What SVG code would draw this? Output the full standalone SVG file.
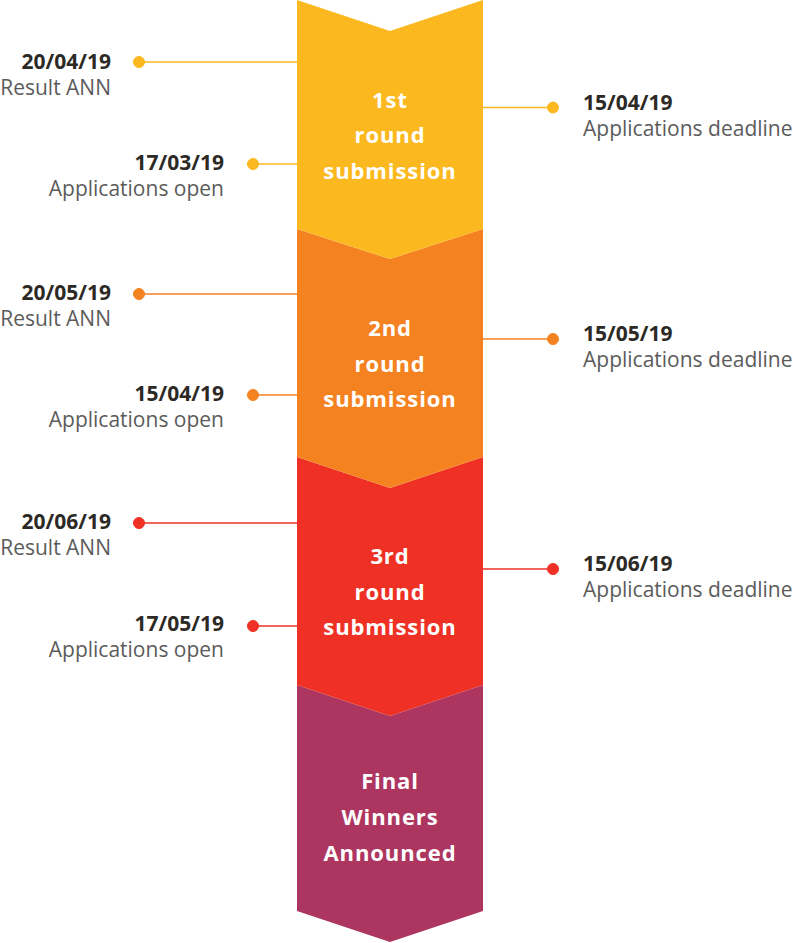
<svg xmlns="http://www.w3.org/2000/svg" width="793" height="943" viewBox="0 0 793 943">
<style>
.stage{font-family:"Open Sans","Liberation Sans",sans-serif;font-weight:700;font-size:22px;fill:#fff;text-anchor:middle;letter-spacing:0.9px}
.date{font-family:"Open Sans","Liberation Sans",sans-serif;font-weight:700;font-size:21px;fill:#2d2a26}
.lbl{font-family:"Open Sans","Liberation Sans",sans-serif;font-size:21px;fill:#5b5b5b}
.l{text-anchor:end}
.r{text-anchor:start}
.y{stroke:#FBB81F;fill:#FBB81F}
.o{stroke:#F58220;fill:#F58220}
.rd{stroke:#EE3124;fill:#EE3124}
line{stroke-width:1.5}
</style>
<rect width="793" height="943" fill="#fff"/>
<g id="final">
<polygon points="297,685 390,716 483,685 483,911 390,942 297,911" fill="#AD3661"/>
<text class="stage" x="390" y="789">Final</text>
<text class="stage" x="390" y="825">Winners</text>
<text class="stage" x="390" y="861">Announced</text>
</g>
<g id="round3">
<polygon points="297,457 390,488 483,457 483,685 390,716 297,685" fill="#EE3124"/>
<text class="stage" x="390" y="564">3rd</text>
<text class="stage" x="390" y="600">round</text>
<text class="stage" x="390" y="635">submission</text>
</g>
<g id="round2">
<polygon points="297,229 390,259 483,229 483,457 390,488 297,457" fill="#F58220"/>
<text class="stage" x="390" y="336">2nd</text>
<text class="stage" x="390" y="372">round</text>
<text class="stage" x="390" y="407">submission</text>
</g>
<g id="round1">
<polygon points="297,0 390,31 483,0 483,229 390,259 297,229" fill="#FBB81F"/>
<text class="stage" x="390" y="108">1st</text>
<text class="stage" x="390" y="143">round</text>
<text class="stage" x="390" y="179">submission</text>
</g>
<g id="connectors">
<line class="y" x1="139" y1="62" x2="297" y2="62"/><circle class="y" cx="139" cy="62" r="5.5"/>
<line class="y" x1="253" y1="164" x2="297" y2="164"/><circle class="y" cx="253" cy="164" r="5.5"/>
<line class="y" x1="483" y1="107.5" x2="553" y2="107.5"/><circle class="y" cx="553" cy="107.5" r="5.5"/>
<line class="o" x1="139" y1="294" x2="297" y2="294"/><circle class="o" cx="139" cy="294" r="5.5"/>
<line class="o" x1="253" y1="395" x2="297" y2="395"/><circle class="o" cx="253" cy="395" r="5.5"/>
<line class="o" x1="483" y1="339" x2="553" y2="339"/><circle class="o" cx="553" cy="339" r="5.5"/>
<line class="rd" x1="139" y1="523" x2="297" y2="523"/><circle class="rd" cx="139" cy="523" r="5.5"/>
<line class="rd" x1="253" y1="626" x2="297" y2="626"/><circle class="rd" cx="253" cy="626" r="5.5"/>
<line class="rd" x1="483" y1="569" x2="553" y2="569"/><circle class="rd" cx="553" cy="569" r="5.5"/>
</g>
<g id="labels1">
<text class="date l" x="111" y="68.5">20/04/19</text><text class="lbl l" x="111" y="94.5">Result ANN</text>
<text class="date l" x="224" y="169.5">17/03/19</text><text class="lbl l" x="224" y="195.5">Applications open</text>
<text class="date r" x="583" y="109.5">15/04/19</text><text class="lbl r" x="583" y="135.5">Applications deadline</text>
</g>
<g id="labels2">
<text class="date l" x="111" y="299.5">20/05/19</text><text class="lbl l" x="111" y="325.5">Result ANN</text>
<text class="date l" x="224" y="400.5">15/04/19</text><text class="lbl l" x="224" y="426.5">Applications open</text>
<text class="date r" x="583" y="340.5">15/05/19</text><text class="lbl r" x="583" y="366.5">Applications deadline</text>
</g>
<g id="labels3">
<text class="date l" x="111" y="528.5">20/06/19</text><text class="lbl l" x="111" y="554.5">Result ANN</text>
<text class="date l" x="224" y="631">17/05/19</text><text class="lbl l" x="224" y="657">Applications open</text>
<text class="date r" x="583" y="570.5">15/06/19</text><text class="lbl r" x="583" y="596.5">Applications deadline</text>
</g>
</svg>
